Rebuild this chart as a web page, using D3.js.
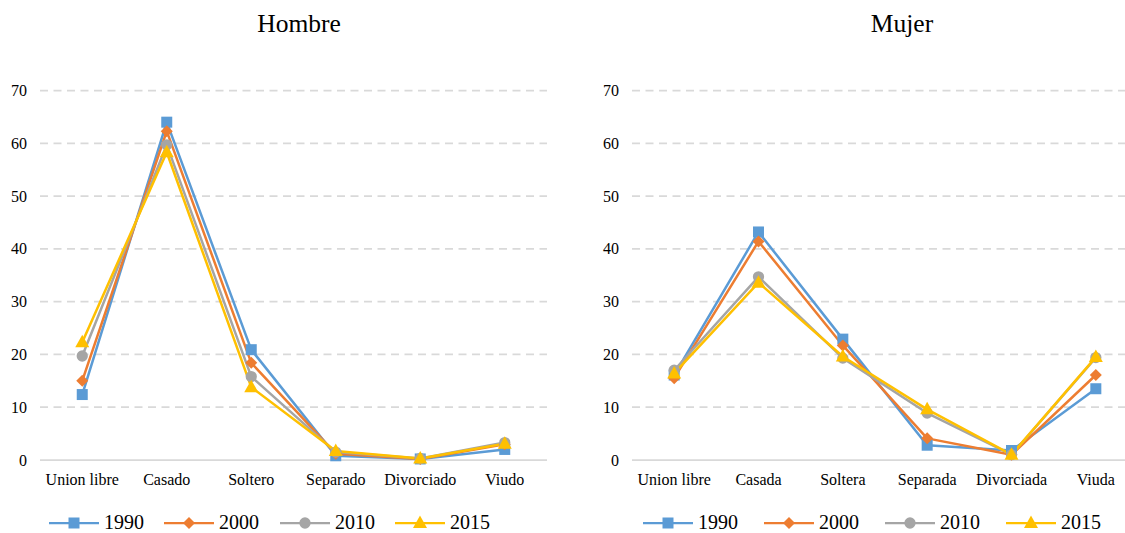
<!DOCTYPE html>
<html><head><meta charset="utf-8">
<script src="https://cdn.jsdelivr.net/npm/d3@7/dist/d3.min.js"></script>
<style>body{margin:0;background:#fff}svg{display:block}</style>
</head><body>
<svg id="c" width="1125" height="533"></svg>
<script>
const years = ["1990","2000","2010","2015"];
const colors = ["#5B9BD5","#ED7D31","#A5A5A5","#FFC000"];
const symbols = ["square","diamond","circle","triangle"];
const yTicks = [0,10,20,30,40,50,60,70];

const hombreCats = ["Union libre","Casado","Soltero","Separado","Divorciado","Viudo"];
const hombre1990 = [12.4, 64.0, 20.9, 0.8, 0.2, 2.0];
const hombre2000 = [15.0, 62.3, 18.4, 1.2, 0.2, 3.0];
const hombre2010 = [19.7, 59.7, 15.8, 1.5, 0.3, 3.3];
const hombre2015 = [22.3, 58.3, 13.8, 1.7, 0.3, 3.1];

const mujerCats = ["Union libre","Casada","Soltera","Separada","Divorciada","Viuda"];
const mujer1990 = [16.1, 43.2, 22.9, 2.8, 1.8, 13.5];
const mujer2000 = [15.5, 41.4, 21.7, 4.1, 1.0, 16.1];
const mujer2010 = [17.0, 34.7, 19.3, 8.9, 1.0, 19.4];
const mujer2015 = [16.4, 33.6, 19.6, 9.6, 1.0, 19.5];

const svg = d3.select("#c");
const font = "'Liberation Serif','Times New Roman','DejaVu Serif',serif";

function symPath(kind){
  if(kind==="square") return d3.symbol(d3.symbolSquare, 121)();
  if(kind==="diamond") return "M0,-6L6,0L0,6L-6,0Z";
  if(kind==="circle") return d3.symbol(d3.symbolCircle, 100)();
  return "M0,-7.5L7,5L-7,5Z";
}

function drawPanel(opts){
  const {x0,x1,title,titleX,cats,series,legendX} = opts;
  const y = d3.scaleLinear().domain([0,70]).range([460,90.5]);
  const x = d3.scaleBand().domain(cats).range([x0,x1]);
  const g = svg.append("g");
  g.selectAll("line.grid").data(yTicks.filter(t=>t>0)).join("line")
    .attr("x1",x0).attr("x2",x1).attr("y1",d=>y(d)).attr("y2",d=>y(d))
    .attr("stroke","#D9D9D9").attr("stroke-width",1.75).attr("stroke-dasharray","8,5.5");
  g.append("line").attr("x1",x0).attr("x2",x1).attr("y1",y(0)).attr("y2",y(0))
    .attr("stroke","#D9D9D9").attr("stroke-width",1.75);
  g.selectAll("text.yl").data(yTicks).join("text")
    .attr("x",x0-13).attr("y",d=>y(d)+5.5).attr("text-anchor","end")
    .attr("font-family",font).attr("font-size",16).attr("fill","#000").text(d=>d);
  g.selectAll("text.xl").data(cats).join("text")
    .attr("x",d=>x(d)+x.bandwidth()/2).attr("y",485).attr("text-anchor","middle")
    .attr("font-family",font).attr("font-size",16).attr("fill","#000").text(d=>d);
  g.append("text").attr("x",titleX).attr("y",32).attr("text-anchor","middle")
    .attr("font-family",font).attr("font-size",25.5).attr("fill","#000").text(title);
  const line = d3.line().x((d,i)=>x(cats[i])+x.bandwidth()/2).y(d=>y(d));
  series.forEach((s,k)=>{
    g.append("path").attr("d",line(s)).attr("fill","none")
      .attr("stroke",colors[k]).attr("stroke-width",2.5).attr("stroke-linejoin","round");
  });
  series.forEach((s,k)=>{
    g.selectAll(null).data(s).join("path")
      .attr("d",symPath(symbols[k]))
      .attr("transform",(d,i)=>`translate(${x(cats[i])+x.bandwidth()/2},${y(d)})`)
      .attr("fill",colors[k]);
  });
  years.forEach((yr,k)=>{
    const lx = legendX[k];
    g.append("line").attr("x1",lx).attr("x2",lx+50).attr("y1",523).attr("y2",523)
      .attr("stroke",colors[k]).attr("stroke-width",2.25);
    g.append("path").attr("d",symPath(symbols[k])).attr("transform",`translate(${lx+25},523)`)
      .attr("fill",colors[k]);
    g.append("text").attr("x",lx+55).attr("y",529).attr("font-family",font)
      .attr("font-size",20).attr("fill","#000").text(yr);
  });
}

drawPanel({x0:40,x1:547,title:"Hombre",titleX:299,cats:hombreCats,
  series:[hombre1990,hombre2000,hombre2010,hombre2015],legendX:[49,164,280,395]});
drawPanel({x0:632,x1:1138,title:"Mujer",titleX:902,cats:mujerCats,
  series:[mujer1990,mujer2000,mujer2010,mujer2015],legendX:[643,764,885,1006]});
</script>
</body></html>
